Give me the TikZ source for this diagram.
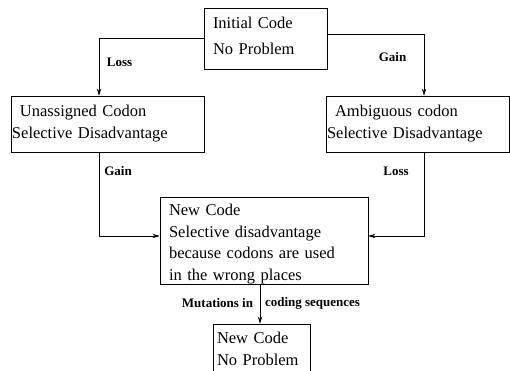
\documentclass[tikz,border=0pt]{standalone}
\usepackage{fontspec}
\setmainfont{Liberation Serif}
\usetikzlibrary{arrows.meta}

\tikzset{
  codebox/.style={draw, line width=0.8pt, inner ysep=0pt, align=left,
    font=\fontsize{16.5}{21.5}\selectfont},
  edgelabel/.style={font=\fontsize{13}{15}\selectfont\bfseries},
  flow/.style={line width=0.8pt, -{Stealth[length=7pt,width=4.5pt]}}
}

\begin{document}
\begin{tikzpicture}[x=1pt,y=-1pt]
  \useasboundingbox (0,0) rectangle (510,371);

  % boxes
  \node[codebox, inner xsep=9pt, text width=105pt, minimum height=61pt] (init) at (265.5,38.5)
    {Initial Code\\[4.5pt]No Problem\rule[-6pt]{0pt}{6pt}};
  \node[codebox, inner xsep=1pt, text width=191pt, minimum height=56pt] (unas) at (107.5,124)
    {\hspace*{8pt}Unassigned Codon\\[0.5pt]Selective Disadvantage};
  \node[codebox, inner xsep=1pt, text width=181pt, minimum height=56pt] (ambi) at (417.5,124)
    {\hspace*{8pt}Ambiguous codon\\[0.5pt]Selective Disadvantage};
  \node[codebox, inner xsep=9pt, text width=190pt, minimum height=87pt] (newc) at (264,240.5)
    {\rule{0pt}{19pt}New Code\\Selective disadvantage\\because codons are used\\in the wrong places};
  \node[codebox, inner xsep=4pt, text width=89pt, minimum height=56pt] (fin) at (261.5,352)
    {New Code\\No Problem\rule[-6pt]{0pt}{6pt}};

  % connectors
  \draw[flow] (init.west) -| ([xshift=-8.5pt]unas.north);
  \draw[flow] ([yshift=4.5pt]init.east) -| ([xshift=6.5pt]ambi.north);
  \draw[flow] ([xshift=-8.5pt]unas.south) |- ([yshift=4.5pt]newc.west);
  \draw[flow] ([xshift=6.5pt]ambi.south) |- ([yshift=4.5pt]newc.east);
  \draw[flow] ([xshift=-4pt]newc.south) -- ([xshift=-4pt]newc.south |- fin.north);

  % labels
  \node[edgelabel] (lossA) at (119.5,62) {Loss};
  \node[edgelabel] (gainA) at (392.5,57) {Gain};
  \node[edgelabel] (gainB) at (118,171) {Gain};
  \node[edgelabel] (lossB) at (396,171) {Loss};
  \node[edgelabel] (mutA) at (217.5,303) {Mutations in};
  \node[edgelabel] (mutB) at (312.5,303) {coding sequences};
\end{tikzpicture}
\end{document}
